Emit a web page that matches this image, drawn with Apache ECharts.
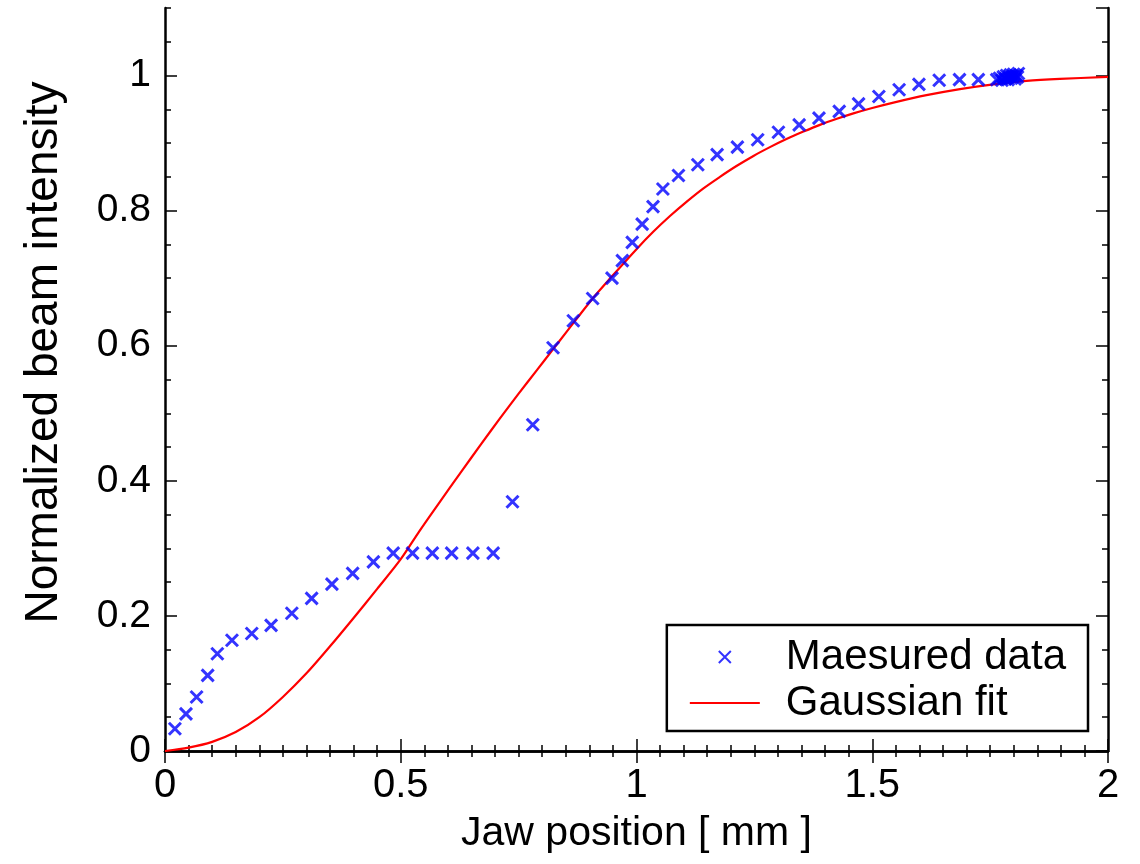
<!DOCTYPE html>
<html>
<head>
<meta charset="utf-8">
<title>Beam profile – jaw scan</title>
<script src="https://cdn.jsdelivr.net/npm/echarts@6/dist/echarts.min.js"></script>
<style>
  html, body { margin: 0; padding: 0; background: #fff; }
  #chart { width: 1140px; height: 864px; }
</style>
</head>
<body>
<div id="chart"></div>
<script>
// Jaw position [mm] and normalized intensity of the measured scan
const measuredX = [
  0.021, 0.0445, 0.067, 0.0905, 0.111, 0.142, 0.184, 0.225, 0.269, 0.311,
  0.354, 0.398, 0.442, 0.484, 0.525, 0.567, 0.608, 0.653, 0.696, 0.737,
  0.780, 0.823, 0.866, 0.907, 0.948, 0.970, 0.991, 1.012, 1.035, 1.056,
  1.089, 1.130, 1.171, 1.214, 1.257, 1.301, 1.345, 1.387, 1.430, 1.471,
  1.514, 1.557, 1.599, 1.642, 1.685, 1.725,
  1.764, 1.770, 1.775, 1.778, 1.782, 1.785, 1.788, 1.790, 1.793, 1.795,
  1.798, 1.800, 1.803, 1.805, 1.808, 1.810
];
const measuredY = [
  0.033, 0.055, 0.080, 0.112, 0.144, 0.164, 0.174, 0.186, 0.204, 0.226,
  0.247, 0.263, 0.280, 0.293, 0.293, 0.293, 0.293, 0.293, 0.293, 0.369,
  0.483, 0.597, 0.637, 0.670, 0.700, 0.726, 0.753, 0.780, 0.806, 0.832,
  0.852, 0.868, 0.883, 0.894, 0.905, 0.916, 0.927, 0.937, 0.947, 0.958,
  0.969, 0.979, 0.987, 0.993, 0.994, 0.994,
  0.994, 0.996, 0.993, 0.998, 0.995, 1.000, 0.994, 0.998, 1.001, 0.996,
  0.999, 1.002, 0.995, 1.000, 0.998, 1.003
];

// Fitted edge profile
const fitX = [
  0.00, 0.05, 0.10, 0.15, 0.20, 0.25, 0.30, 0.35, 0.40, 0.45,
  0.50, 0.54, 0.58, 0.63, 0.67, 0.71, 0.75, 0.79, 0.82, 0.85,
  0.907, 0.947, 1.000, 1.036, 1.071, 1.106, 1.142, 1.177, 1.212, 1.248,
  1.283, 1.318, 1.354, 1.389, 1.425, 1.460, 1.500, 1.545, 1.615, 1.686,
  1.757, 1.827, 1.898, 2.000
];
const fitY = [
  0.000, 0.005, 0.0135, 0.028, 0.050, 0.080, 0.115, 0.155, 0.197, 0.240,
  0.284, 0.326, 0.366, 0.415, 0.454, 0.492, 0.529, 0.565, 0.592, 0.619,
  0.670, 0.702, 0.743, 0.769, 0.792, 0.813, 0.833, 0.850, 0.866, 0.881,
  0.894, 0.906, 0.917, 0.927, 0.936, 0.944, 0.952, 0.960, 0.971, 0.980,
  0.987, 0.992, 0.995, 0.998
];

const xTicks = { min: 0, max: 2, interval: 0.5 };
const yTicks = { min: 0, max: 1.1, interval: 0.2, minorInterval: 0.05 };

const FONT = '"Liberation Sans", Arial, Helvetica, sans-serif';
const BLACK = '#000';
const CROSS = 'path://M0,0L10,10M10,0L0,10';
const DASH = 'path://M0,0L70,0L70,2.2L0,2.2Z';

const pairs = (xs, ys) => xs.map((x, i) => [x, ys[i]]);

const axisLine = { show: true, lineStyle: { color: BLACK, width: 2.5 } };
const majorTick = { show: true, inside: true, length: 12, lineStyle: { color: BLACK, width: 1.5 } };
const minorTickStyle = { show: true, inside: true, length: 6, lineStyle: { color: BLACK, width: 1.5 } };

function xAxisAt(position, withLabels) {
  return {
    type: 'value', position,
    min: xTicks.min, max: xTicks.max, interval: xTicks.interval,
    axisLine, axisTick: majorTick,
    minorTick: { show: true, splitNumber: 10, length: 6, lineStyle: { color: BLACK, width: 1.5 } },
    splitLine: { show: false }, minorSplitLine: { show: false },
    axisLabel: withLabels
      ? { show: true, color: BLACK, fontFamily: FONT, fontSize: 40, margin: 15 }
      : { show: false },
    name: withLabels ? 'Jaw position [ mm ]' : '',
    nameLocation: 'middle', nameGap: 62,
    nameTextStyle: { color: BLACK, fontFamily: FONT, fontSize: 41 }
  };
}

function yAxisAt(position, minor, withLabels) {
  return {
    type: 'value', position,
    min: yTicks.min, max: yTicks.max,
    interval: minor ? yTicks.minorInterval : yTicks.interval,
    axisLine: minor ? { show: false } : axisLine,
    axisTick: minor ? minorTickStyle : majorTick,
    splitLine: { show: false },
    axisLabel: withLabels
      ? { show: true, color: BLACK, fontFamily: FONT, fontSize: 39, margin: 14, showMaxLabel: false }
      : { show: false },
    name: withLabels ? 'Normalized beam intensity' : '',
    nameLocation: 'middle', nameGap: 98,
    nameTextStyle: { color: BLACK, fontFamily: FONT, fontSize: 46, padding: [0, 0, 0, 54] }
  };
}

const chart = echarts.init(document.getElementById('chart'), null, { renderer: 'canvas' });

chart.setOption({
  animation: false,
  backgroundColor: '#fff',
  grid: { left: 165, right: 32, top: 8, bottom: 113, containLabel: false, outerBoundsMode: 'none' },
  xAxis: [xAxisAt('bottom', true), xAxisAt('top', false)],
  yAxis: [
    yAxisAt('left', false, true),
    yAxisAt('left', true, false),
    yAxisAt('right', false, false),
    yAxisAt('right', true, false)
  ],
  legend: {
    right: 52, top: 625,
    orient: 'vertical',
    backgroundColor: '#fff',
    borderColor: BLACK, borderWidth: 2.5, borderRadius: 0,
    padding: [9, 22, 5, 23],
    itemWidth: 70, itemHeight: 12, itemGap: 0,
    textStyle: { color: BLACK, fontFamily: FONT, fontSize: 42, lineHeight: 46, padding: [0, 0, 0, 21] },
    data: [
      { name: 'Maesured data', icon: CROSS },
      { name: 'Gaussian fit', icon: DASH, itemStyle: { color: '#ff0000', borderWidth: 0 } }
    ]
  },
  series: [
    {
      name: 'Gaussian fit',
      type: 'line',
      xAxisIndex: 0, yAxisIndex: 0,
      data: pairs(fitX, fitY),
      smooth: 0.3,
      symbol: 'none',
      lineStyle: { color: '#ff0000', width: 2.2 },
      itemStyle: { color: '#ff0000' },
      z: 2
    },
    {
      name: 'Maesured data',
      type: 'scatter',
      xAxisIndex: 0, yAxisIndex: 0,
      data: pairs(measuredX, measuredY),
      symbol: CROSS,
      symbolSize: 12,
      itemStyle: { color: 'rgba(0,0,0,0)', borderColor: '#0000ff', borderWidth: 3 },
      z: 3
    }
  ]
});
</script>
</body>
</html>
